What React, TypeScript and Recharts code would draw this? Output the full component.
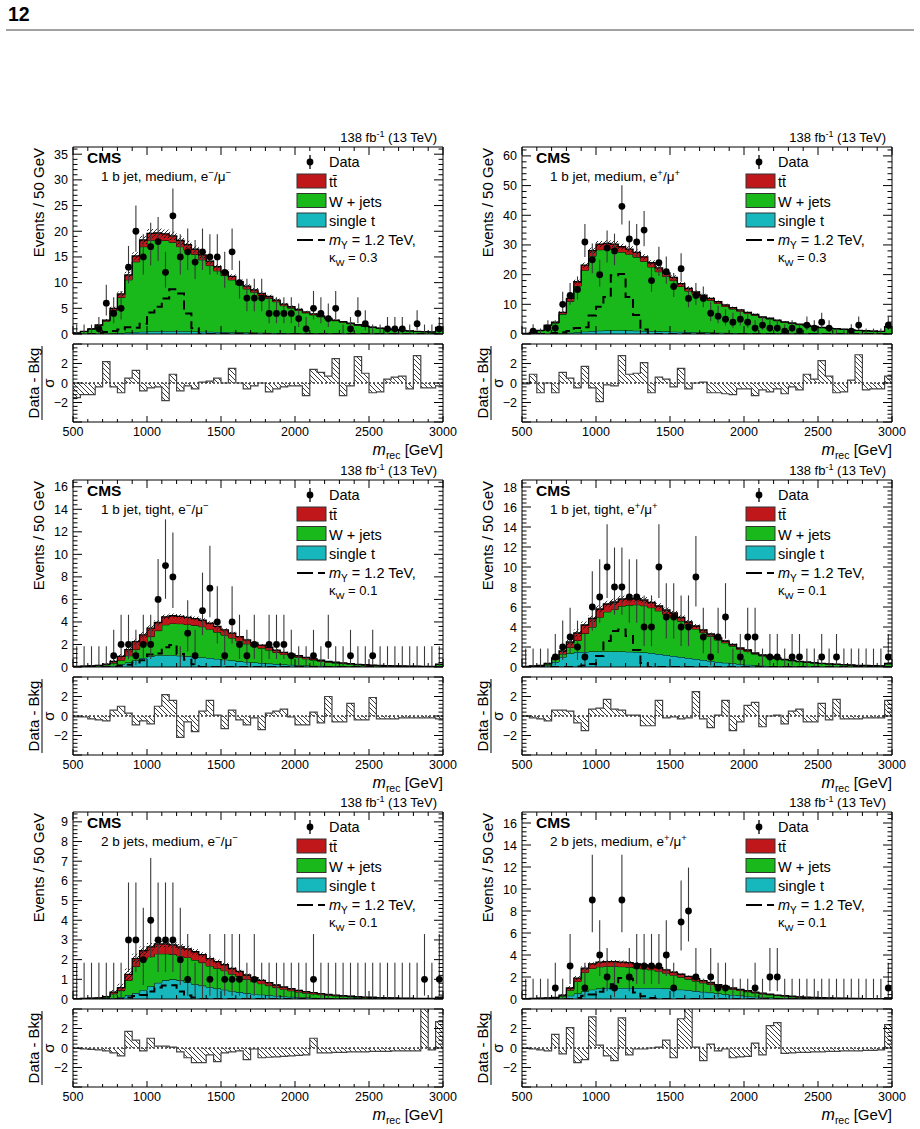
import React from 'react';
import { ComposedChart, Area, Line, Scatter, ErrorBar, XAxis, YAxis, ReferenceLine } from 'recharts';

const FONT = '"Liberation Sans", Arial, Helvetica, sans-serif';

// 50 GeV bins from 500 to 3000 GeV (lower edges + final upper edge)
const BIN_EDGES = Array.from({ length: 51 }, (_, i) => 500 + 50 * i);
const X_TICKS = Array.from({ length: 26 }, (_, i) => 500 + 100 * i);

// ---- 1 b jet, medium, e-/mu- ----
const st1 = [0,0,0.01,0.02,0.05,0.1,0.2,0.3,0.4,0.45,0.5,0.55,0.55,0.55,0.55,0.5,0.5,0.45,0.45,0.4,0.38,0.35,0.32,0.3,0.27,0.25,0.22,0.2,0.18,0.16,0.14,0.12,0.1,0.09,0.08,0.07,0.06,0.05,0.05,0.04,0.04,0.03,0.03,0.03,0.02,0.02,0.02,0.02,0.01,0.03];
const w1 = [0.19,0.48,0.94,1.63,2.45,4.5,6.9,10.25,13.65,16.55,17.75,17.8,17.65,17.3,16.45,15.8,15.0,14.0,12.87,11.9,11.0,10.2,9.3,8.48,7.87,7.24,6.72,6.08,5.34,4.89,4.44,3.99,3.63,3.26,2.84,2.52,2.24,1.96,1.67,1.44,1.25,1.07,0.89,0.78,0.66,0.55,0.45,0.4,0.37,1.21];
const tt1 = [0.01,0.02,0.05,0.1,0.2,0.4,0.7,0.95,1.15,1.3,1.35,1.35,1.3,1.25,1.2,1.1,1.0,0.95,0.88,0.8,0.72,0.65,0.58,0.52,0.46,0.41,0.36,0.32,0.28,0.25,0.22,0.19,0.17,0.15,0.13,0.11,0.1,0.09,0.08,0.07,0.06,0.05,0.05,0.04,0.04,0.03,0.03,0.03,0.02,0.06];
const unc1 = [0.05,0.08,0.12,0.15,0.2,0.3,0.45,0.6,0.7,0.8,0.85,0.85,0.85,0.8,0.8,0.75,0.7,0.65,0.6,0.55,0.5,0.45,0.42,0.4,0.37,0.35,0.32,0.3,0.27,0.25,0.23,0.21,0.19,0.17,0.15,0.14,0.13,0.12,0.11,0.1,0.09,0.08,0.07,0.06,0.06,0.05,0.05,0.05,0.05,0.1];
const sig1 = [0,0,0,0.2,0.4,0.6,0.9,1.3,1.2,2.0,4.2,5.3,6.9,8.7,7.9,4.0,1.1,0,0,0,0,0,0,0,0,0,0,0,0,0,0,0,0,0,0,0,0,0,0,0,0,0,0,0,0,0,0,0,0,0];
const data1 = [0,0,0,1,6,4,5,13,20,15,17,18,12,23,15,16,14,16,15,15,12,16,10,7,7,7,4,4,4,4,3,1,5,4,3,5,0,1,4,2,0,0,1,1,1,0,2,0,0,1];
const pull1 = [-1.5,-1.2,-1.2,-0.4,2.2,-0.4,-1.0,0.5,1.3,-0.8,-0.5,-0.4,-1.8,0.9,-0.8,-0.3,-0.6,0.1,0.2,0.5,0.0,1.5,0.0,-0.6,-0.3,0.0,-0.9,-0.6,-0.4,-0.3,-0.3,-1.3,1.4,1.1,0.7,2.5,-1.3,-0.3,2.7,1.0,-1.0,-0.9,0.4,0.6,0.7,-0.6,2.8,-0.5,-0.5,-0.3];

// ---- 1 b jet, medium, e+/mu+ ----
const st2 = [0,0,0.02,0.05,0.1,0.2,0.4,0.6,0.8,1.0,1.1,1.2,1.2,1.2,1.15,1.1,1.0,0.95,0.9,0.85,0.8,0.72,0.65,0.6,0.55,0.5,0.45,0.4,0.35,0.3,0.27,0.24,0.21,0.18,0.16,0.14,0.12,0.1,0.09,0.08,0.07,0.06,0.05,0.05,0.04,0.04,0.03,0.03,0.03,0.06];
const w2 = [0.19,0.47,1.1,2.8,3.6,6.5,10.6,15.6,20.7,25.25,27.3,27.4,27.25,26.4,25.75,24.8,23.5,21.65,20.1,18.55,17.2,15.28,13.85,12.78,11.81,10.84,9.86,8.88,8.09,7.39,6.67,6.04,5.31,4.87,4.32,3.77,3.41,3.05,2.68,2.41,2.03,1.85,1.67,1.48,1.25,1.11,1.02,0.93,0.83,2.34];
const tt2 = [0.01,0.03,0.08,0.15,0.3,0.6,1.0,1.4,1.7,1.85,1.9,1.9,1.85,1.8,1.7,1.6,1.5,1.4,1.3,1.2,1.1,1.0,0.9,0.82,0.74,0.66,0.59,0.52,0.46,0.41,0.36,0.32,0.28,0.25,0.22,0.19,0.17,0.15,0.13,0.11,0.1,0.09,0.08,0.07,0.06,0.05,0.05,0.04,0.04,0.1];
const unc2 = [0.05,0.08,0.15,0.2,0.25,0.35,0.5,0.7,0.85,1.0,1.05,1.05,1.05,1.0,1.0,0.95,0.9,0.85,0.8,0.75,0.7,0.65,0.6,0.55,0.5,0.46,0.42,0.38,0.35,0.32,0.3,0.27,0.25,0.23,0.21,0.19,0.17,0.15,0.14,0.13,0.12,0.11,0.1,0.09,0.08,0.07,0.07,0.06,0.06,0.15];
const sig2 = [0,0,0,0,0.3,0.6,1.0,2.0,2.3,6.2,9.2,12.5,19.8,20.2,12.5,6.4,1.5,0,0,0,0,0,0,0,0,0,0,0,0,0,0,0,0,0,0,0,0,0,0,0,0,0,0,0,0,0,0,0,0,0];
const data2 = [0,1,0,2,2,10,13,15,31,25,20,29,28,43,32,31,35,18,24,21,16,22,12,13,12,7,6,5,4,5,4,2,3,2,2,1,2,1,3,2,4,2,0,0,1,3,0,0,0,3];
const pull2 = [-0.1,0.9,-1.0,0.0,-1.0,1.1,0.5,-0.5,1.7,-0.5,-1.9,-0.2,-0.3,2.8,0.9,1.0,2.1,-1.0,0.6,0.4,-0.4,1.5,-0.6,0.0,0.1,-1.0,-1.0,-1.1,-1.2,-0.6,-0.6,-1.3,-0.7,-0.9,-0.6,-1.1,-0.4,-0.7,0.9,0.4,2.3,0.7,-1.0,-0.9,0.3,2.9,-0.7,-0.6,-0.6,0.7];

// ---- 1 b jet, tight, e-/mu- ----
const st3 = [0,0,0.01,0.02,0.05,0.1,0.25,0.4,0.6,0.8,0.95,1.05,1.05,1.05,1.0,0.95,0.9,0.85,0.8,0.72,0.65,0.58,0.5,0.45,0.4,0.35,0.3,0.26,0.22,0.19,0.16,0.14,0.12,0.1,0.08,0.07,0.06,0.05,0.04,0.03,0.03,0.02,0.02,0.02,0.01,0.01,0.01,0.01,0.01,0.05];
const w3 = [0.05,0.07,0.09,0.12,0.15,0.25,0.35,0.6,0.95,1.3,1.75,2.18,2.7,2.82,2.85,2.83,2.8,2.73,2.56,2.38,2.19,2.0,1.82,1.61,1.45,1.33,1.21,1.03,0.9,0.8,0.7,0.59,0.5,0.41,0.34,0.28,0.24,0.2,0.16,0.13,0.11,0.09,0.08,0.06,0.06,0.06,0.05,0.04,0.03,0.17];
const tt3 = [0,0,0,0.01,0.05,0.15,0.35,0.55,0.7,0.75,0.75,0.72,0.7,0.68,0.65,0.62,0.6,0.57,0.54,0.5,0.46,0.42,0.38,0.34,0.3,0.27,0.24,0.21,0.18,0.16,0.14,0.12,0.1,0.09,0.08,0.07,0.06,0.05,0.04,0.04,0.03,0.03,0.02,0.02,0.02,0.01,0.01,0.01,0.01,0.03];
const unc3 = [0.02,0.03,0.04,0.05,0.08,0.12,0.2,0.25,0.25,0.25,0.25,0.22,0.2,0.2,0.2,0.19,0.18,0.17,0.16,0.15,0.14,0.13,0.12,0.11,0.1,0.09,0.08,0.08,0.07,0.06,0.06,0.05,0.05,0.04,0.04,0.03,0.03,0.03,0.02,0.02,0.02,0.02,0.02,0.01,0.01,0.01,0.01,0.01,0.01,0.03];
const sig3 = [0,0,0,0,0,0,0.1,0.2,0.4,0.6,1.1,1.2,1.75,1.95,1.15,0.65,0.25,0,0,0,0,0,0,0,0,0,0,0,0,0,0,0,0,0,0,0,0,0,0,0,0,0,0,0,0,0,0,0,0,0];
const data3 = [0,0,0,0,0,1,2,2,1,2,2,6,9,8,0,3,1,5,7,4,1,4,2,1,2,0,2,2,2,1,0,0,1,0,2,0,0,1,0,0,1,0,0,0,0,0,0,0,0,0];
const pull3 = [-0.1,-0.1,-0.3,-0.4,-0.5,0.6,1.0,0.3,-0.9,-0.5,-0.8,1.0,2.2,1.6,-2.2,-0.6,-1.6,0.5,1.6,0.1,-1.3,0.6,-0.4,-0.9,-0.2,-1.4,0.3,0.5,0.7,-0.1,-0.9,-0.9,0.4,-0.7,2.0,-0.6,-0.6,1.3,-0.4,-0.4,1.9,-0.3,-0.3,-0.3,-0.2,-0.2,-0.2,-0.2,-0.2,-0.3];

// ---- 1 b jet, tight, e+/mu+ ----
const st4 = [0.02,0.05,0.08,0.15,0.5,1.0,1.35,1.5,1.5,1.55,1.55,1.55,1.55,1.55,1.52,1.5,1.45,1.4,1.3,1.2,1.1,1.0,0.9,0.8,0.7,0.6,0.5,0.42,0.35,0.28,0.22,0.17,0.13,0.1,0.08,0.06,0.05,0.04,0.03,0.03,0.02,0.02,0.02,0.01,0.01,0.01,0.01,0.01,0.01,0.05];
const w4 = [0.03,0.05,0.06,0.15,0.25,0.3,0.6,1.15,1.85,2.45,3.43,3.97,4.21,4.55,4.67,4.73,4.68,4.53,4.32,4.06,3.9,3.59,3.28,3.01,2.74,2.47,2.2,2.0,1.74,1.48,1.36,1.13,0.98,0.87,0.75,0.65,0.57,0.48,0.43,0.36,0.32,0.27,0.24,0.21,0.17,0.14,0.13,0.11,0.09,0.27];
const tt4 = [0,0,0.01,0.05,0.15,0.3,0.55,0.75,0.85,0.85,0.82,0.78,0.74,0.7,0.66,0.62,0.57,0.52,0.48,0.44,0.4,0.36,0.32,0.29,0.26,0.23,0.2,0.18,0.16,0.14,0.12,0.1,0.09,0.08,0.07,0.06,0.05,0.05,0.04,0.04,0.03,0.03,0.02,0.02,0.02,0.02,0.01,0.01,0.01,0.03];
const unc4 = [0.02,0.03,0.04,0.08,0.15,0.25,0.3,0.35,0.35,0.35,0.35,0.33,0.32,0.32,0.31,0.3,0.29,0.28,0.27,0.26,0.25,0.23,0.21,0.19,0.17,0.16,0.14,0.13,0.12,0.1,0.09,0.08,0.07,0.06,0.06,0.05,0.05,0.04,0.04,0.03,0.03,0.03,0.02,0.02,0.02,0.02,0.02,0.02,0.01,0.04];
const sig4 = [0,0,0,0,0,0,0,0.05,0.15,0.3,1.1,2.6,3.6,3.75,3.1,1.7,0.4,0,0,0,0,0,0,0,0,0,0,0,0,0,0,0,0,0,0,0,0,0,0,0,0,0,0,0,0,0,0,0,0,0];
const data4 = [0,0,0,0,1,2,3,2,1,6,7,10,8,8,7,7,4,4,10,5,5,4,4,9,3,1,3,5,0,1,3,3,0,1,1,0,1,1,0,0,1,0,1,0,0,0,0,0,0,1];
const pull4 = [0.0,-0.2,-0.3,-0.5,0.6,0.6,0.5,-0.7,-1.5,0.7,0.8,1.7,0.7,0.6,0.1,0.1,-1.0,-1.0,1.6,-0.2,-0.1,-0.3,-0.2,2.5,-0.3,-1.2,0.1,1.6,-1.5,-0.6,1.1,1.4,-1.1,0.0,0.1,-0.8,0.5,0.7,-0.6,-0.6,1.3,-0.4,1.7,-0.3,-0.3,-0.3,-0.2,-0.2,-0.2,1.6];

// ---- 2 b jets, medium, e-/mu- ----
const st5 = [0,0,0,0.01,0.02,0.05,0.1,0.2,0.3,0.45,0.65,0.82,0.95,1.0,0.95,0.85,0.75,0.68,0.6,0.53,0.47,0.4,0.35,0.3,0.26,0.22,0.19,0.16,0.13,0.11,0.09,0.08,0.06,0.05,0.04,0.04,0.03,0.03,0.02,0.02,0.02,0.01,0.01,0.01,0.01,0.01,0.01,0.01,0.01,0.03];
const w5 = [0.02,0.03,0.04,0.04,0.08,0.22,0.33,0.75,1.35,1.55,1.5,1.48,1.35,1.27,1.24,1.26,1.23,1.17,1.08,1.03,0.97,0.87,0.8,0.7,0.62,0.56,0.49,0.42,0.37,0.31,0.27,0.22,0.2,0.17,0.15,0.12,0.11,0.08,0.08,0.06,0.05,0.05,0.04,0.03,0.02,0.02,0.01,0.01,0.01,0.05];
const tt5 = [0,0,0,0.01,0.02,0.08,0.15,0.3,0.4,0.45,0.5,0.5,0.5,0.48,0.46,0.44,0.42,0.4,0.37,0.34,0.31,0.28,0.25,0.22,0.2,0.17,0.15,0.13,0.11,0.1,0.08,0.07,0.06,0.05,0.04,0.04,0.03,0.03,0.02,0.02,0.02,0.01,0.01,0.01,0.01,0.01,0.01,0.01,0.01,0.02];
const unc5 = [0.01,0.01,0.02,0.03,0.05,0.12,0.2,0.3,0.25,0.22,0.2,0.18,0.17,0.16,0.15,0.15,0.14,0.13,0.12,0.11,0.1,0.09,0.08,0.07,0.07,0.06,0.05,0.05,0.04,0.04,0.03,0.03,0.03,0.02,0.02,0.02,0.02,0.02,0.01,0.01,0.01,0.01,0.01,0.01,0.01,0.01,0.01,0.01,0.01,0.02];
const sig5 = [0,0,0,0,0,0,0,0.08,0.15,0.2,0.38,0.58,0.68,0.7,0.38,0.18,0.08,0,0,0,0,0,0,0,0,0,0,0,0,0,0,0,0,0,0,0,0,0,0,0,0,0,0,0,0,0,0,0,0,0];
const data5 = [0,0,0,0,0,0,0,3,3,2,4,3,3,3,2,1,0,0,1,0,1,1,1,0,1,0,0,0,0,0,0,0,1,0,0,0,0,0,0,0,0,0,0,0,0,0,0,1,0,1];
const pull5 = [-0.05,-0.1,-0.15,-0.2,-0.3,-0.5,-0.8,1.7,0.8,-0.3,1.0,0.2,0.2,0.1,-0.4,-1.0,-1.5,-1.5,-0.7,-1.4,-0.5,-0.4,-0.3,-1.2,-0.1,-1.0,-0.95,-0.9,-0.85,-0.8,-0.75,-0.7,1.0,-0.5,-0.5,-0.45,-0.45,-0.4,-0.4,-0.4,-0.35,-0.35,-0.35,-0.3,-0.3,-0.3,-0.3,4.5,-0.2,2.7];

// ---- 2 b jets, medium, e+/mu+ ----
const st6 = [0,0,0.01,0.02,0.04,0.1,0.3,0.5,0.7,0.85,0.95,1.0,1.0,1.0,1.0,1.0,1.0,1.0,1.0,0.95,0.9,0.85,0.8,0.72,0.65,0.58,0.5,0.43,0.37,0.31,0.26,0.21,0.17,0.14,0.11,0.09,0.07,0.06,0.05,0.04,0.03,0.03,0.02,0.02,0.02,0.01,0.01,0.01,0.01,0.03];
const w6 = [0.03,0.05,0.06,0.07,0.09,0.17,0.5,1.1,1.72,1.93,1.98,1.98,1.98,1.94,1.9,1.82,1.74,1.66,1.53,1.4,1.27,1.14,1.01,0.91,0.82,0.74,0.64,0.58,0.51,0.46,0.4,0.34,0.29,0.24,0.2,0.17,0.14,0.11,0.09,0.08,0.07,0.05,0.05,0.04,0.03,0.03,0.02,0.02,0.01,0.05];
const tt6 = [0,0,0,0.01,0.02,0.08,0.2,0.3,0.38,0.42,0.42,0.42,0.42,0.41,0.4,0.38,0.36,0.34,0.32,0.3,0.28,0.26,0.24,0.22,0.2,0.18,0.16,0.14,0.12,0.1,0.09,0.08,0.07,0.06,0.05,0.04,0.04,0.03,0.03,0.02,0.02,0.02,0.01,0.01,0.01,0.01,0.01,0.01,0.01,0.02];
const unc6 = [0.01,0.02,0.02,0.03,0.05,0.1,0.2,0.2,0.18,0.15,0.14,0.14,0.14,0.14,0.13,0.13,0.12,0.12,0.11,0.1,0.1,0.09,0.08,0.08,0.07,0.06,0.06,0.05,0.05,0.04,0.04,0.03,0.03,0.03,0.02,0.02,0.02,0.02,0.01,0.01,0.01,0.01,0.01,0.01,0.01,0.01,0.01,0.01,0.01,0.02];
const sig6 = [0,0,0,0,0,0,0,0.1,0.3,0.4,0.65,0.95,1.35,1.9,1.85,0.6,0.25,0.1,0,0,0,0,0,0,0,0,0,0,0,0,0,0,0,0,0,0,0,0,0,0,0,0,0,0,0,0,0,0,0,0];
const data6 = [0,0,0,0,1,0,3,0,1,9,4,2,1,9,2,3,3,3,3,4,1,7,8,2,0,2,1,1,0,0,0,1,0,2,2,0,0,0,0,0,0,0,0,0,0,0,0,0,0,1];
const pull6 = [-0.05,-0.1,-0.2,-0.3,1.4,-0.6,2.1,-1.5,-1.2,3.2,0.3,-0.8,-1.3,3.1,-0.7,-0.1,-0.1,0.0,0.1,0.8,-1.0,3.0,4.5,0.1,-1.3,0.4,-0.3,-0.1,-1.0,-0.9,-0.85,0.5,-0.7,2.3,2.6,-0.55,-0.5,-0.45,-0.45,-0.4,-0.4,-0.35,-0.35,-0.3,-0.3,-0.3,-0.25,-0.25,-0.2,2.4];

// Garwood 68% intervals for small counts
const POIS_LO = [0, 0.17, 0.71, 1.37, 2.09, 2.84, 3.62, 4.42, 5.23, 6.06, 6.89];
const POIS_HI = [1.84, 3.3, 4.64, 5.92, 7.16, 8.38, 9.58, 10.77, 11.95, 13.11, 14.27];

const C_TT = '#c0171b';
const C_W = '#19b81b';
const C_ST = '#17b8bd';

const PW = 370;
const MH = 187;
const RH = 78;

const PANELS = [
  { left: 73, top: 147, rTop: 344, yMax: 36.4, yMajor: 5, yMinor: 1, sel: '1 b jet, medium, ', q: '\u2212', kappa: '0.3', st: st1, w: w1, tt: tt1, unc: unc1, sig: sig1, data: data1, pull: pull1 },
  { left: 522, top: 147, rTop: 344, yMax: 63, yMajor: 10, yMinor: 2, sel: '1 b jet, medium, ', q: '+', kappa: '0.3', st: st2, w: w2, tt: tt2, unc: unc2, sig: sig2, data: data2, pull: pull2 },
  { left: 73, top: 480, rTop: 677, yMax: 16.6, yMajor: 2, yMinor: 0.4, sel: '1 b jet, tight, ', q: '\u2212', kappa: '0.1', st: st3, w: w3, tt: tt3, unc: unc3, sig: sig3, data: data3, pull: pull3 },
  { left: 522, top: 480, rTop: 677, yMax: 18.7, yMajor: 2, yMinor: 0.4, sel: '1 b jet, tight, ', q: '+', kappa: '0.1', st: st4, w: w4, tt: tt4, unc: unc4, sig: sig4, data: data4, pull: pull4 },
  { left: 73, top: 812, rTop: 1009, yMax: 9.5, yMajor: 1, yMinor: 0.2, sel: '2 b jets, medium, ', q: '\u2212', kappa: '0.1', st: st5, w: w5, tt: tt5, unc: unc5, sig: sig5, data: data5, pull: pull5 },
  { left: 522, top: 812, rTop: 1009, yMax: 17, yMajor: 2, yMinor: 0.4, sel: '2 b jets, medium, ', q: '+', kappa: '0.1', st: st6, w: w6, tt: tt6, unc: unc6, sig: sig6, data: data6, pull: pull6 },
];

function poisson(n: number): [number, number] {
  if (n <= 10) return [n - POIS_LO[n], POIS_HI[n] - n];
  const s = Math.sqrt(n + 0.25);
  return [s - 0.5, s + 0.5];
}

function steps(a: number, b: number, s: number) {
  const out: number[] = [];
  for (let k = 0; a + k * s <= b + 1e-9; k++) out.push(+(a + k * s).toFixed(4));
  return out;
}

const near = (v: number, step: number) => Math.abs(v / step - Math.round(v / step)) < 1e-6;

const fmt = (v: number) => (v < 0 ? '\u2212' + Math.abs(v) : String(v));

const bottomTick = (len: number, labels: boolean) => (p: any) => {
  const v = p.payload.value;
  const major = near(v, 500);
  return (
    <g>
      <line x1={p.x} x2={p.x} y1={p.y} y2={p.y - (major ? len : len / 2)} stroke="#000" />
      {labels && major ? (
        <text x={p.x} y={p.y + 14} textAnchor="middle" fontSize={12.5} fontFamily={FONT} fill="#000">{v}</text>
      ) : null}
    </g>
  );
};

const topTick = (len: number) => (p: any) => {
  const major = near(p.payload.value, 500);
  return <line x1={p.x} x2={p.x} y1={p.y} y2={p.y + (major ? len : len / 2)} stroke="#000" />;
};

const leftTick = (major: number, len: number, lim: number) => (p: any) => {
  const v = p.payload.value;
  const isMaj = near(v, major);
  return (
    <g>
      <line x1={p.x} x2={p.x + (isMaj ? len : len / 2)} y1={p.y} y2={p.y} stroke="#000" />
      {isMaj && Math.abs(v) < lim ? (
        <text x={p.x - 5} y={p.y + 4.5} textAnchor="end" fontSize={12.5} fontFamily={FONT} fill="#000">{fmt(v)}</text>
      ) : null}
    </g>
  );
};

const rightTick = (major: number, len: number) => (p: any) => {
  const isMaj = near(p.payload.value, major);
  return <line x1={p.x} x2={p.x - (isMaj ? len : len / 2)} y1={p.y} y2={p.y} stroke="#000" />;
};

const dataDot = (props: any) => {
  const { cx, cy, payload } = props;
  if (!payload || payload.y <= 0) return <g />;
  return <circle cx={cx} cy={cy} r={3.4} fill="#000" />;
};

function histRows(p: any) {
  return BIN_EDGES.map((x, i) => {
    const k = Math.min(i, 49);
    const tot = p.st[k] + p.w[k] + p.tt[k];
    return { x, st: p.st[k], w: p.w[k], tt: p.tt[k], band: [tot - p.unc[k], tot + p.unc[k]], sig: p.sig[k], pull: p.pull[k] };
  });
}

function dataRows(p: any) {
  return p.data.map((n: number, i: number) => ({ x: BIN_EDGES[i] + 25, y: n, err: poisson(n) }));
}

const LM = 40;
const EDGE = 6;

function MainPlot({ p, idx }: { p: any; idx: number }) {
  const rows = histRows(p);
  const pts = dataRows(p);
  const yTicks = steps(0, p.yMax, p.yMinor);
  return (
    <div style={{ position: 'absolute', left: p.left - LM, top: p.top - EDGE }}>
      <ComposedChart width={LM + PW + EDGE} height={EDGE + MH + EDGE} data={rows} margin={{ top: 0, right: 0, bottom: 0, left: 0 }}>
        <defs>
          <pattern id={`hm${idx}`} patternUnits="userSpaceOnUse" width="4" height="4">
            <path d="M0,4 L4,0 M-1,1 L1,-1 M3,5 L5,3" stroke="#000" strokeWidth="0.8" />
          </pattern>
        </defs>
        <XAxis xAxisId="b" dataKey="x" type="number" orientation="bottom" domain={[500, 3000]} ticks={X_TICKS} interval={0} height={EDGE} tickSize={0} tickMargin={0} tickLine={false} tick={bottomTick(8, false)} axisLine={{ stroke: '#000' }} allowDataOverflow />
        <XAxis xAxisId="t" dataKey="x" type="number" orientation="top" domain={[500, 3000]} ticks={X_TICKS} interval={0} height={EDGE} tickSize={0} tickMargin={0} tickLine={false} tick={topTick(8)} axisLine={{ stroke: '#000' }} allowDataOverflow />
        <YAxis yAxisId="l" type="number" orientation="left" domain={[0, p.yMax]} ticks={yTicks} interval={0} width={LM} tickSize={0} tickMargin={0} tickLine={false} tick={leftTick(p.yMajor, 9, 1e9)} axisLine={{ stroke: '#000' }} allowDataOverflow />
        <YAxis yAxisId="r" type="number" orientation="right" domain={[0, p.yMax]} ticks={yTicks} interval={0} width={EDGE} tickSize={0} tickMargin={0} tickLine={false} tick={rightTick(p.yMajor, 9)} axisLine={{ stroke: '#000' }} allowDataOverflow />
        <Area xAxisId="b" yAxisId="l" type="stepAfter" dataKey="st" stackId="bkg" fill={C_ST} fillOpacity={1} stroke="#000" strokeWidth={1} isAnimationActive={false} />
        <Area xAxisId="b" yAxisId="l" type="stepAfter" dataKey="w" stackId="bkg" fill={C_W} fillOpacity={1} stroke="#000" strokeWidth={1} isAnimationActive={false} />
        <Area xAxisId="b" yAxisId="l" type="stepAfter" dataKey="tt" stackId="bkg" fill={C_TT} fillOpacity={1} stroke="#000" strokeWidth={1.3} isAnimationActive={false} />
        <Area xAxisId="b" yAxisId="l" type="stepAfter" dataKey="band" fill={`url(#hm${idx})`} fillOpacity={1} stroke="none" isAnimationActive={false} />
        <Line xAxisId="b" yAxisId="l" type="stepAfter" dataKey="sig" stroke="#000" strokeWidth={2} strokeDasharray="9 5" dot={false} isAnimationActive={false} />
        <Scatter xAxisId="b" yAxisId="l" data={pts} dataKey="y" shape={dataDot} isAnimationActive={false}>
          <ErrorBar dataKey="err" direction="y" width={0} stroke="#3a3a3a" strokeWidth={1.1} isAnimationActive={false} />
        </Scatter>
      </ComposedChart>
    </div>
  );
}

function RatioPlot({ p, idx }: { p: any; idx: number }) {
  const rows = histRows(p);
  const yTicks = steps(-4, 4, 0.4);
  return (
    <div style={{ position: 'absolute', left: p.left - LM, top: p.rTop - EDGE }}>
      <ComposedChart width={LM + PW + 16} height={EDGE + RH + 22} data={rows} margin={{ top: 0, right: 0, bottom: 0, left: 0 }}>
        <defs>
          <pattern id={`hr${idx}`} patternUnits="userSpaceOnUse" width="5" height="5">
            <path d="M0,0 L5,5 M-1,4 L1,6 M4,-1 L6,1" stroke="#222" strokeWidth="0.9" />
          </pattern>
        </defs>
        <XAxis xAxisId="b" dataKey="x" type="number" orientation="bottom" domain={[500, 3000]} ticks={X_TICKS} interval={0} height={22} tickSize={0} tickMargin={0} tickLine={false} tick={bottomTick(6, true)} axisLine={{ stroke: '#000' }} allowDataOverflow />
        <XAxis xAxisId="t" dataKey="x" type="number" orientation="top" domain={[500, 3000]} ticks={X_TICKS} interval={0} height={EDGE} tickSize={0} tickMargin={0} tickLine={false} tick={topTick(6)} axisLine={{ stroke: '#000' }} allowDataOverflow />
        <YAxis yAxisId="l" type="number" orientation="left" domain={[-4, 4]} ticks={yTicks} interval={0} width={LM} tickSize={0} tickMargin={0} tickLine={false} tick={leftTick(2, 9, 3.5)} axisLine={{ stroke: '#000' }} allowDataOverflow />
        <YAxis yAxisId="r" type="number" orientation="right" domain={[-4, 4]} ticks={yTicks} interval={0} width={16} tickSize={0} tickMargin={0} tickLine={false} tick={rightTick(2, 9)} axisLine={{ stroke: '#000' }} allowDataOverflow />
        <Area xAxisId="b" yAxisId="l" type="stepAfter" dataKey="pull" baseValue={0} fill={`url(#hr${idx})`} fillOpacity={1} stroke="#444" strokeWidth={1.2} isAnimationActive={false} />
        <ReferenceLine xAxisId="b" yAxisId="l" y={0} stroke="#333" strokeWidth={1.4} strokeDasharray="2 2" />
      </ComposedChart>
    </div>
  );
}

function Texts({ p }: { p: any }) {
  const L = p.left;
  const T = p.top;
  const R = p.rTop;
  const fs = 14.5;
  return (
    <g fontFamily={FONT} fill="#000">
      <text x={L + 364} y={T - 5} textAnchor="end" fontSize={13}>
        138 fb<tspan dy={-5} fontSize={9}>-1</tspan><tspan dy={5}> (13 TeV)</tspan>
      </text>
      <text x={L + 14} y={T + 16} fontSize={15.5} fontWeight="bold">CMS</text>
      <text x={L + 28} y={T + 34} fontSize={13.5}>
        {p.sel}e<tspan dy={-5} fontSize={9.5}>{p.q}</tspan><tspan dy={5}>/μ</tspan><tspan dy={-5} fontSize={9.5}>{p.q}</tspan>
      </text>
      {/* legend */}
      <line x1={L + 237} x2={L + 237} y1={T + 8} y2={T + 22} stroke="#000" strokeWidth={1.3} />
      <circle cx={L + 237} cy={T + 15} r={3.4} fill="#000" />
      <text x={L + 256} y={T + 20} fontSize={fs}>Data</text>
      <rect x={L + 224} y={T + 27} width={29} height={14} fill={C_TT} stroke="#333" />
      <text x={L + 256} y={T + 40} fontSize={fs}>tt̄</text>
      <rect x={L + 224} y={T + 46.5} width={29} height={14} fill={C_W} stroke="#333" />
      <text x={L + 256} y={T + 59.5} fontSize={fs}>W + jets</text>
      <rect x={L + 224} y={T + 66} width={29} height={14} fill={C_ST} stroke="#333" />
      <text x={L + 256} y={T + 79} fontSize={fs}>single t</text>
      <line x1={L + 224} x2={L + 240} y1={T + 93} y2={T + 93} stroke="#000" strokeWidth={2} />
      <line x1={L + 245} x2={L + 252} y1={T + 93} y2={T + 93} stroke="#000" strokeWidth={2} />
      <text x={L + 256} y={T + 98} fontSize={fs}>
        <tspan fontStyle="italic">m</tspan><tspan dy={4} fontSize={10}>Y</tspan><tspan dy={-4}> = 1.2 TeV,</tspan>
      </text>
      <text x={L + 256} y={T + 115} fontSize={13}>
        κ<tspan dy={4} fontSize={9.5}>W</tspan><tspan dy={-4}> = {p.kappa}</tspan>
      </text>
      {/* axis titles */}
      <text transform={`translate(${L - 29},${T + 1}) rotate(-90)`} textAnchor="end" fontSize={15}>Events / 50 GeV</text>
      <text transform={`translate(${L - 34},${R + 39}) rotate(-90)`} textAnchor="middle" fontSize={15}>Data - Bkg</text>
      <line x1={L - 31} x2={L - 31} y1={R + 2} y2={R + 76} stroke="#000" strokeWidth={1} />
      <text transform={`translate(${L - 19},${R + 39}) rotate(-90)`} textAnchor="middle" fontSize={15}>σ</text>
      <text x={L + PW} y={R + RH + 33} textAnchor="end" fontSize={15}>
        <tspan fontStyle="italic" fontSize={16}>m</tspan><tspan dy={4} fontSize={10.5}>rec</tspan><tspan dy={-4}> [GeV]</tspan>
      </text>
    </g>
  );
}

export default function App() {
  return (
    <div style={{ position: 'absolute', left: 0, top: 0, width: 920, height: 1129, background: '#fff', overflow: 'hidden' }}>
      {PANELS.map((p, i) => (
        <React.Fragment key={i}>
          <MainPlot p={p} idx={i} />
          <RatioPlot p={p} idx={i} />
        </React.Fragment>
      ))}
      <svg width={920} height={1129} style={{ position: 'absolute', left: 0, top: 0, pointerEvents: 'none' }}>
        <text x={8} y={21} fontFamily={FONT} fontWeight="bold" fontSize={19.5}>12</text>
        <line x1={6} x2={914} y1={30} y2={30} stroke="#444" strokeWidth={1} />
        {PANELS.map((p, i) => <Texts key={i} p={p} />)}
      </svg>
    </div>
  );
}
